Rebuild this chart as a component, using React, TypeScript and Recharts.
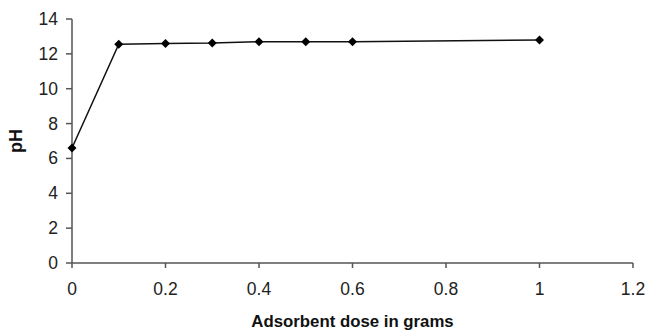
import { Line, LineChart, XAxis, YAxis } from "recharts";

const doses = [0, 0.1, 0.2, 0.3, 0.4, 0.5, 0.6, 1.0];
const phValues = [6.6, 12.55, 12.6, 12.62, 12.7, 12.7, 12.7, 12.8];
const xTicks = [0, 0.2, 0.4, 0.6, 0.8, 1, 1.2];
const yTicks = [0, 2, 4, 6, 8, 10, 12, 14];

const chartData = doses.map((dose, i) => ({ dose, ph: phValues[i] }));

const font = "'Liberation Sans', Arial, sans-serif";

function Diamond(props: any) {
  const { cx, cy } = props;
  if (cx == null || cy == null) return null;
  const r = 4.5;
  return (
    <polygon
      points={`${cx},${cy - r} ${cx + r},${cy} ${cx},${cy + r} ${cx - r},${cy}`}
      fill="#000"
    />
  );
}

function XTick(props: any) {
  const { x, y, payload } = props;
  return (
    <text x={x} y={y + 25} textAnchor="middle" fill="#222" fontSize={17.5} fontFamily={font}>
      {String(payload.value)}
    </text>
  );
}

function YTick(props: any) {
  const { x, y, payload } = props;
  return (
    <text x={x - 6} y={y + 6} textAnchor="end" fill="#222" fontSize={17.5} fontFamily={font}>
      {String(payload.value)}
    </text>
  );
}

export default function App() {
  return (
    <div style={{ position: "absolute", left: 0, top: 0, background: "#fff" }}>
      <LineChart
        width={648}
        height={331}
        data={chartData}
        margin={{ top: 19, right: 15, bottom: 0, left: 22 }}
      >
        <XAxis
          dataKey="dose"
          type="number"
          domain={[0, 1.2]}
          ticks={xTicks}
          height={68}
          stroke="#555"
          strokeWidth={1.5}
          tickSize={5}
          tick={<XTick />}
          label={{
            value: "Adsorbent dose in grams",
            position: "insideBottom",
            offset: 4,
            style: { fill: "#111", fontSize: 16.8, fontWeight: "bold", fontFamily: font },
          }}
        />
        <YAxis
          type="number"
          domain={[0, 14]}
          ticks={yTicks}
          width={50}
          stroke="#555"
          strokeWidth={1.5}
          tickSize={6}
          tick={<YTick />}
          label={{
            value: "pH",
            angle: -90,
            position: "insideLeft",
            offset: -6,
            style: { fill: "#111", fontSize: 18, fontWeight: "bold", fontFamily: font, textAnchor: "middle" },
          }}
        />
        <Line
          type="linear"
          dataKey="ph"
          stroke="#111"
          strokeWidth={1.5}
          dot={<Diamond />}
          activeDot={false}
          isAnimationActive={false}
        />
      </LineChart>
    </div>
  );
}
